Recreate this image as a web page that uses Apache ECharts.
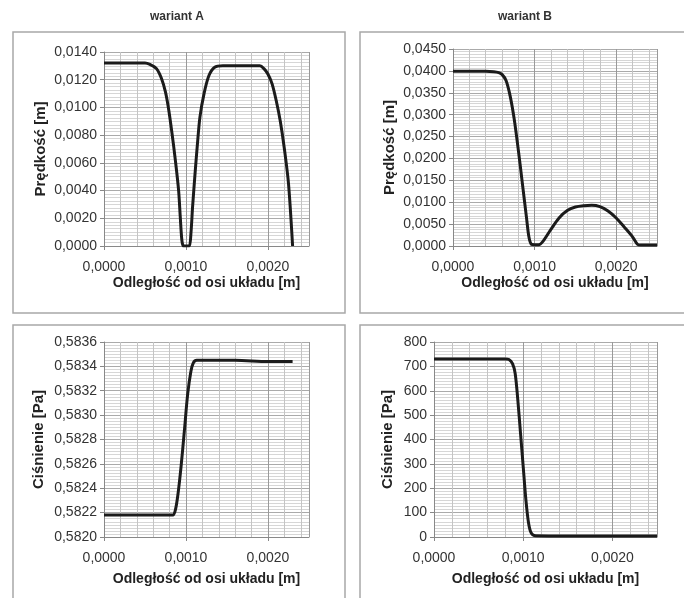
<!DOCTYPE html>
<html>
<head>
<meta charset="utf-8">
<script src="https://cdn.jsdelivr.net/npm/echarts@6/dist/echarts.min.js"></script>
<style>
  body { margin: 0; background: #fff; }
  #chart { width: 684px; height: 598px; }
</style>
</head>
<body>
<div id="chart"></div>
<script>
// wariant A - predkosc
var distA = [0, 0.0002, 0.0004, 0.0005, 0.00056, 0.00064, 0.0007, 0.00075, 0.00079, 0.00083,
  0.00087, 0.00091, 0.00093, 0.00095, 0.00097, 0.001, 0.00104, 0.00106, 0.00108, 0.00111,
  0.00114, 0.00117, 0.00122, 0.00128, 0.00135, 0.00145, 0.0016, 0.0018, 0.0019, 0.00195,
  0.002, 0.00205, 0.0021, 0.00215, 0.0022, 0.00225, 0.0023]
var velA = [0.0132, 0.0132, 0.0132, 0.0132, 0.0131, 0.0128, 0.0121, 0.0111, 0.0098, 0.0081,
  0.0062, 0.0040, 0.0021, 0.0004, 0, 0, 0, 0.0009, 0.0028, 0.0052,
  0.0074, 0.0093, 0.0110, 0.0123, 0.0129, 0.0130, 0.0130, 0.0130, 0.0130, 0.0128,
  0.0124, 0.0117, 0.0105, 0.0090, 0.0070, 0.0045, 0]

// wariant B - predkosc
var distB = [0, 0.0002, 0.0004, 0.0005, 0.00056, 0.0006, 0.00065, 0.0007, 0.00075, 0.0008,
  0.00085, 0.0009, 0.00093, 0.00096, 0.001, 0.00105, 0.0011, 0.0012, 0.0013, 0.0014,
  0.0015, 0.0016, 0.0017, 0.0018, 0.0019, 0.002, 0.0021, 0.0022, 0.00226, 0.0023,
  0.0024, 0.0025]
var velB = [0.0399, 0.0399, 0.0399, 0.0398, 0.0396, 0.0392, 0.0378, 0.0343, 0.0290, 0.0220,
  0.0143, 0.0066, 0.0021, 0.0004, 0.0003, 0.0003, 0.0010, 0.0038, 0.0064, 0.0081,
  0.0089, 0.0092, 0.0093, 0.0090, 0.0080, 0.0064, 0.0043, 0.0021, 0.0004, 0.0002,
  0.0002, 0.0002]

// wariant A - cisnienie
var distC = [0, 0.0004, 0.0008, 0.00084, 0.00087, 0.0009, 0.00094, 0.00098, 0.00102, 0.00106,
  0.00109, 0.00113, 0.0012, 0.0016, 0.002, 0.0023]
var presC = [0.58218, 0.58218, 0.58218, 0.58218, 0.58222, 0.58234, 0.58258, 0.58287, 0.58317, 0.58336,
  0.58343, 0.58345, 0.58345, 0.58345, 0.58344, 0.58344]

// wariant B - cisnienie
var distD = [0, 0.0004, 0.0008, 0.00084, 0.00088, 0.00091, 0.00094, 0.00097, 0.001, 0.00103,
  0.00106, 0.00109, 0.00114, 0.0015, 0.002, 0.0025]
var presD = [730, 730, 730, 728, 711, 671, 561, 425, 289, 153,
  57, 16, 5, 4, 4, 4]

var titles = ['wariant A', 'wariant B']
var xName = 'Odległość od osi układu [m]'
var yNames = ['Prędkość [m]', 'Prędkość [m]', 'Ciśnienie [Pa]', 'Ciśnienie [Pa]']

var font = "'Liberation Sans', Arial, sans-serif"

function pairs (xs, ys) {
  return xs.map(function (x, i) { return [x, ys[i]] })
}

function comma4 (v) {
  return v.toFixed(4).replace('.', ',')
}

function makeX (idx, nameGap) {
  return {
    type: 'value',
    gridIndex: idx,
    min: 0,
    max: 0.0025,
    interval: 0.001,
    name: xName,
    nameLocation: 'middle',
    nameGap: nameGap,
    nameTextStyle: { fontFamily: font, fontSize: 14, fontWeight: 'bold', color: '#222' },
    axisLine: { show: true, lineStyle: { color: '#888', width: 1 } },
    axisTick: { show: true, length: 4, lineStyle: { color: '#888' } },
    axisLabel: { fontFamily: font, fontSize: 14, color: '#333', margin: 14, showMaxLabel: false, formatter: comma4 },
    splitLine: { show: true, lineStyle: { color: '#999', width: 1 } },
    minorTick: { show: false, splitNumber: 5 },
    minorSplitLine: { show: true, lineStyle: { color: '#c4c4c4', width: 1 } }
  }
}

function makeY (idx, min, max, interval, minorN, fmt, nameGap, nameSize) {
  return {
    type: 'value',
    gridIndex: idx,
    min: min,
    max: max,
    interval: interval,
    name: yNames[idx],
    nameLocation: 'middle',
    nameGap: nameGap,
    nameTextStyle: { fontFamily: font, fontSize: nameSize, fontWeight: 'bold', color: '#222' },
    axisLine: { show: true, lineStyle: { color: '#888', width: 1 } },
    axisTick: { show: true, length: 4, lineStyle: { color: '#888' } },
    axisLabel: { fontFamily: font, fontSize: 14, color: '#333', margin: 7, formatter: fmt },
    splitLine: { show: true, lineStyle: { color: '#aaa', width: 1 } },
    minorTick: { show: false, splitNumber: minorN },
    minorSplitLine: { show: true, lineStyle: { color: '#d6d6d6', width: 1 } }
  }
}

function makeLine (idx, data) {
  return {
    type: 'line',
    xAxisIndex: idx,
    yAxisIndex: idx,
    data: data,
    showSymbol: false,
    smooth: 0.3,
    lineStyle: { color: '#1b1b1b', width: 3 },
    z: 5
  }
}

function box (x, y, w, h) {
  return {
    type: 'rect',
    shape: { x: x, y: y, width: w, height: h },
    style: { fill: null, stroke: '#a8a8a8', lineWidth: 1.5 },
    silent: true
  }
}

var myChart = echarts.init(document.getElementById('chart'))

var titleStyle = { fontFamily: font, fontSize: 12, fontWeight: 'bold', color: '#333' }

var option = {
  backgroundColor: '#fff',
  animation: false,
  title: [
    { text: titles[0], left: 145, top: 6, textStyle: titleStyle },
    { text: titles[1], left: 493, top: 6, textStyle: titleStyle }
  ],
  graphic: [
    box(13, 32, 332, 281),
    box(360, 32, 340, 281),
    box(13, 325, 332, 290),
    box(360, 325, 340, 290)
  ],
  grid: [
    { left: 104, top: 52, width: 205, height: 194 },
    { left: 453, top: 49, width: 204, height: 197 },
    { left: 104, top: 342, width: 205, height: 195 },
    { left: 434, top: 342, width: 223, height: 195 }
  ],
  xAxis: [makeX(0, 30), makeX(1, 30), makeX(2, 35), makeX(3, 35)],
  yAxis: [
    makeY(0, 0, 0.014, 0.002, 8, comma4, 56, 15),
    makeY(1, 0, 0.045, 0.005, 8, comma4, 56, 15),
    makeY(2, 0.582, 0.5836, 0.0002, 8, comma4, 58, 15),
    makeY(3, 0, 800, 100, 8, function (v) { return String(v) }, 39, 15)
  ],
  series: [
    makeLine(0, pairs(distA, velA)),
    makeLine(1, pairs(distB, velB)),
    makeLine(2, pairs(distC, presC)),
    makeLine(3, pairs(distD, presD))
  ]
}

myChart.setOption(option, true)
</script>
</body>
</html>
